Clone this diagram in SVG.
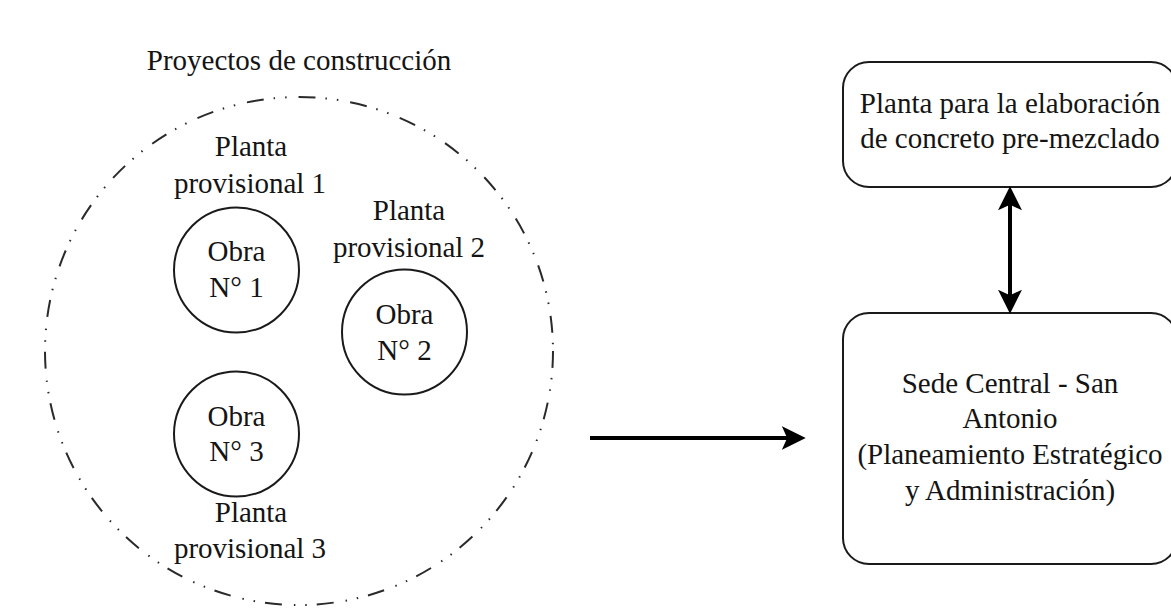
<svg xmlns="http://www.w3.org/2000/svg" width="1171" height="609" viewBox="0 0 1171 609">
  <style>
    text { font-family: "Liberation Serif", "Times New Roman", serif; font-size: 29px; fill: #141414; text-anchor: middle; }
    .obra { fill: none; stroke: #1a1a1a; stroke-width: 2; }
    .box { fill: #ffffff; stroke: #1a1a1a; stroke-width: 2; }
    .zone { fill: none; stroke: #2a2a2a; stroke-width: 2; stroke-dasharray: 17 10 1.5 10 1.5 12; }
    .conn { fill: none; stroke: #000000; stroke-width: 4; }
  </style>
  <defs>
    <marker id="head" markerUnits="userSpaceOnUse" markerWidth="24" markerHeight="24" viewBox="0 0 22 22" refX="14" refY="11" orient="auto-start-reverse">
      <path d="M0,0 L22,11 L0,22 L5,11 Z" fill="#000000"/>
    </marker>
  </defs>
  <rect x="0" y="0" width="1171" height="609" fill="#ffffff"/>

  <g id="proyectos">
    <circle class="zone" cx="299" cy="351" r="254"/>
    <text x="299" y="70">Proyectos de construcción</text>
  </g>

  <g id="obra1">
    <text x="251" y="156">Planta</text>
    <text x="250" y="193">provisional 1</text>
    <circle class="obra" cx="236.5" cy="270" r="62.5"/>
    <text x="236.5" y="261">Obra</text>
    <text x="236.5" y="297">N° 1</text>
  </g>

  <g id="obra2">
    <text x="409" y="220">Planta</text>
    <text x="409" y="257">provisional 2</text>
    <circle class="obra" cx="404.5" cy="332" r="62.5"/>
    <text x="404.5" y="324">Obra</text>
    <text x="404.5" y="360">N° 2</text>
  </g>

  <g id="obra3">
    <circle class="obra" cx="236.5" cy="434" r="62.5"/>
    <text x="236.5" y="426">Obra</text>
    <text x="236.5" y="461">N° 3</text>
    <text x="251" y="522">Planta</text>
    <text x="250" y="558">provisional 3</text>
  </g>

  <g id="planta-concreto">
    <rect class="box" x="843" y="62" width="334" height="125" rx="26" ry="26"/>
    <text x="1010" y="113">Planta para la elaboración</text>
    <text x="1010" y="148">de concreto pre-mezclado</text>
  </g>

  <g id="sede-central">
    <rect class="box" x="843" y="313" width="334" height="251" rx="26" ry="26"/>
    <text x="1010" y="393">Sede Central - San</text>
    <text x="1010" y="428">Antonio</text>
    <text x="1010" y="464">(Planeamiento Estratégico</text>
    <text x="1010" y="500">y Administración)</text>
  </g>

  <g id="connectors">
    <path class="conn" d="M590,438 L797,438" marker-end="url(#head)"/>
    <path class="conn" d="M1010,195 L1010,305" marker-start="url(#head)" marker-end="url(#head)"/>
  </g>
</svg>
